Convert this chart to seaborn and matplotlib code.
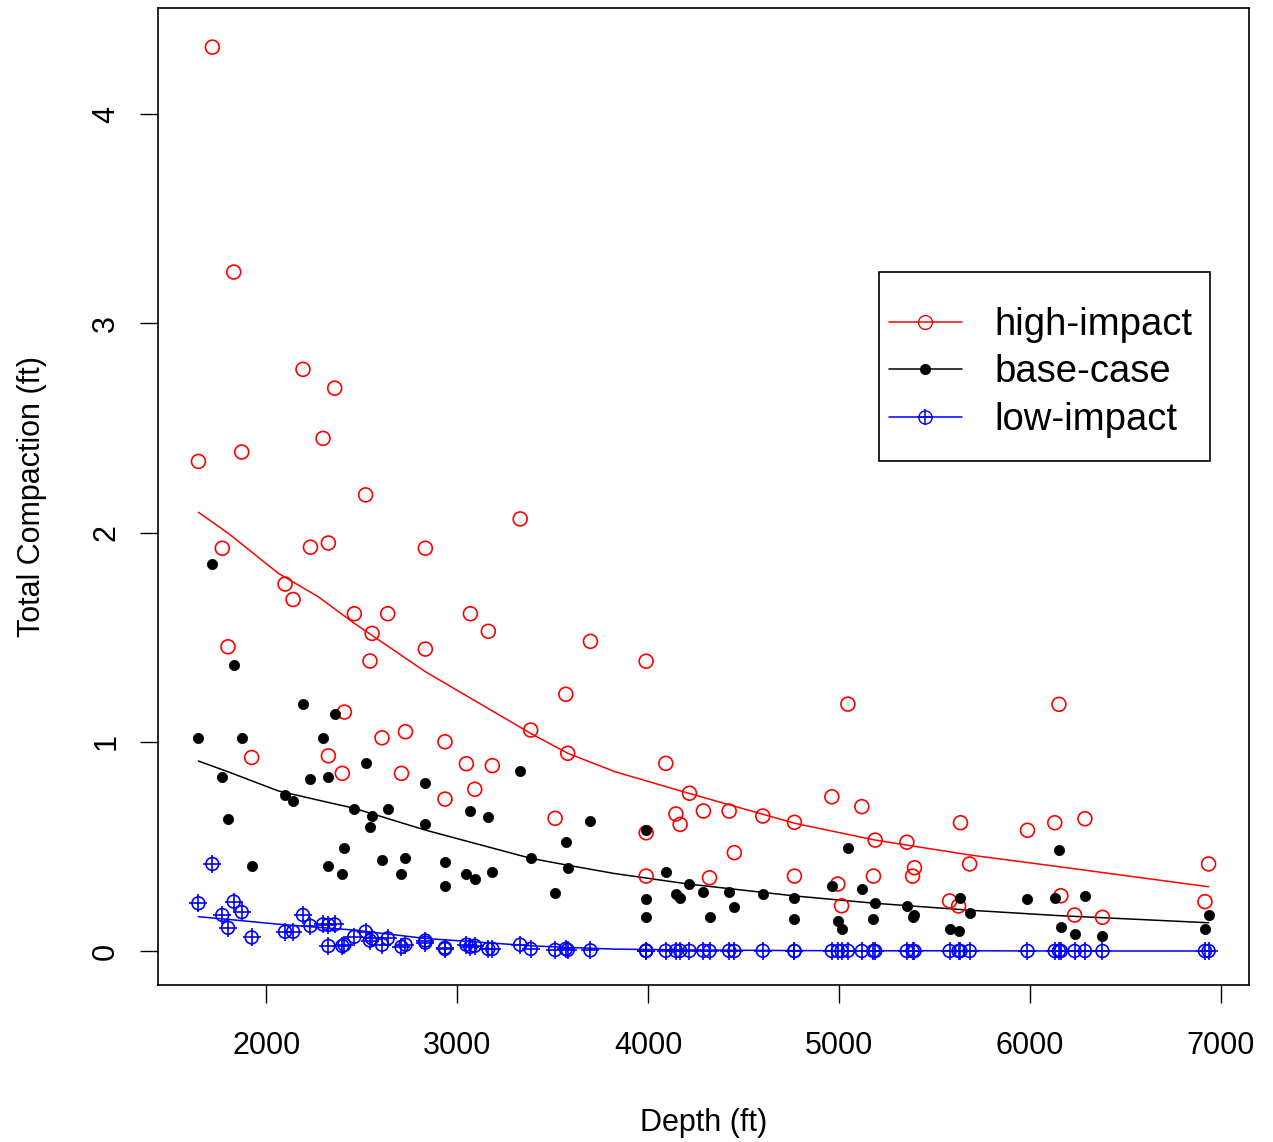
import matplotlib
matplotlib.use("Agg")
import matplotlib.pyplot as plt
import seaborn as sns
import pandas as pd
from matplotlib.lines import Line2D
from matplotlib.patches import Rectangle

# depth of each well (ft) and total compaction for the three scenarios
depth = [1644, 1717, 1769, 1799, 1829, 1871, 1923, 2098, 2140, 2192, 2231, 2297,
         2325, 2325, 2358, 2398, 2409, 2461, 2520, 2543, 2554, 2606, 2636, 2708,
         2729, 2833, 2833, 2936, 2936, 3048, 3069, 3092, 3163, 3184, 3330, 3385,
         3513, 3569, 3579, 3698, 3990, 3990, 3990, 4093, 4146, 4168, 4217, 4290,
         4322, 4425, 4452, 4601, 4767, 4767, 4963, 4994, 5014, 5047, 5120, 5181,
         5190, 5356, 5386, 5396, 5580, 5627, 5637, 5685, 5988, 6131, 6153, 6163,
         6235, 6289, 6381, 6918, 6937]
high_impact = [2.34, 4.32, 1.925, 1.454, 3.245, 2.385, 0.925, 1.754, 1.68, 2.78, 1.93, 2.45,
               1.95, 0.933, 2.69, 0.849, 1.142, 1.612, 2.18, 1.386, 1.518, 1.019, 1.612, 0.849,
               1.048, 1.925, 1.443, 1.0, 0.726, 0.895, 1.612, 0.773, 1.528, 0.886, 2.065, 1.056,
               0.634, 1.227, 0.945, 1.48, 1.385, 0.565, 0.358, 0.897, 0.655, 0.605, 0.754, 0.669,
               0.35, 0.669, 0.47, 0.645, 0.615, 0.358, 0.737, 0.32, 0.216, 1.18, 0.69, 0.358,
               0.53, 0.52, 0.358, 0.398, 0.239, 0.215, 0.613, 0.416, 0.577, 0.613, 1.179, 0.264,
               0.172, 0.632, 0.161, 0.236, 0.416]
base_case = [1.019, 1.849, 0.833, 0.632, 1.368, 1.019, 0.406, 0.747, 0.717, 1.18, 0.82, 1.019,
             0.833, 0.406, 1.134, 0.368, 0.49, 0.68, 0.897, 0.594, 0.645, 0.435, 0.68, 0.368,
             0.443, 0.801, 0.605, 0.427, 0.312, 0.368, 0.67, 0.343, 0.642, 0.379, 0.86, 0.443,
             0.276, 0.52, 0.398, 0.623, 0.578, 0.247, 0.161, 0.379, 0.274, 0.255, 0.322, 0.283,
             0.161, 0.283, 0.209, 0.274, 0.255, 0.153, 0.312, 0.145, 0.104, 0.49, 0.295, 0.153,
             0.228, 0.216, 0.161, 0.172, 0.105, 0.096, 0.255, 0.18, 0.247, 0.255, 0.483, 0.115,
             0.08, 0.264, 0.072, 0.105, 0.17]
low_impact = [0.228, 0.416, 0.172, 0.111, 0.236, 0.186, 0.065, 0.092, 0.092, 0.172, 0.12, 0.127,
              0.125, 0.024, 0.127, 0.024, 0.03, 0.068, 0.092, 0.05, 0.06, 0.03, 0.06, 0.02,
              0.03, 0.05, 0.04, 0.015, 0.01, 0.03, 0.02, 0.025, 0.01, 0.01, 0.03, 0.01,
              0.005, 0.01, 0.005, 0.003, 0.002, 0.001, 0.0, 0.001, 0.001, 0.001, 0.001, 0.001,
              0.0, 0.001, 0.0, 0.001, 0.0, 0.0, 0.0, 0.0, 0.0, 0.001, 0.0, 0.0,
              0.0, 0.0, 0.0, 0.0, 0.0, 0.0, 0.0, 0.0, 0.0, 0.0, 0.0, 0.0,
              0.0, 0.0, 0.0, 0.0, 0.0]

# fitted trend curves
trend_depth = [1644, 1801, 2063, 2272, 2461, 2833, 3385, 3579, 3826, 4212, 4770, 5190, 5685, 6153, 6937]
trend_high = [2.097, 1.996, 1.805, 1.693, 1.566, 1.335, 1.04, 0.945, 0.857, 0.754, 0.61, 0.53, 0.459, 0.403, 0.307]
trend_base = [0.908, 0.856, 0.765, 0.721, 0.682, 0.578, 0.443, 0.41, 0.37, 0.32, 0.263, 0.228, 0.195, 0.169, 0.135]
trend_low = [0.164, 0.151, 0.128, 0.113, 0.1, 0.06, 0.025, 0.017, 0.009, 0.005, 0.002, 0.001, 0.001, 0.0, 0.0]

labels = ["high-impact", "base-case", "low-impact"]

sns.set_style("white")
plt.rcParams["font.family"] = ["Liberation Sans", "DejaVu Sans"]
plt.rcParams["text.color"] = "black"
plt.rcParams["axes.labelcolor"] = "black"

df = pd.DataFrame({"depth": depth, "high": high_impact, "base": base_case, "low": low_impact})
tr = pd.DataFrame({"depth": trend_depth, "high": trend_high, "base": trend_base, "low": trend_low})

W, H = 1273, 1142
fig = plt.figure(figsize=(W / 100, H / 100), dpi=100)
ax = fig.add_axes([158 / W, 1 - 985 / H, (1249 - 158) / W, (985 - 8) / H])

sns.scatterplot(data=df, x="depth", y="high", marker="o", s=100, color="red",
                facecolor="none", edgecolor="red", linewidth=1.2, ax=ax, zorder=3)
sns.scatterplot(data=df, x="depth", y="base", marker="o", s=55, color="black",
                edgecolor="black", linewidth=0.5, ax=ax, zorder=3)
sns.scatterplot(data=df, x="depth", y="low", marker="o", s=85, color="blue",
                facecolor="none", edgecolor="blue", linewidth=1.2, ax=ax, zorder=3)
sns.scatterplot(data=df, x="depth", y="low", marker="+", s=150, color="blue",
                linewidth=1.2, ax=ax, zorder=3)

sns.lineplot(data=tr, x="depth", y="high", color="red", linewidth=1.1, estimator=None, ax=ax)
sns.lineplot(data=tr, x="depth", y="base", color="black", linewidth=1.1, estimator=None, ax=ax)
sns.lineplot(data=tr, x="depth", y="low", color="blue", linewidth=1.1, estimator=None, ax=ax)

# R-style axis range: data range padded by 4%
xpad = 0.04 * (max(depth) - min(depth))
ax.set_xlim(min(depth) - xpad, max(depth) + xpad)
ax.set_ylim(-0.1625, 4.507)

ax.set_xticks([2000, 3000, 4000, 5000, 6000, 7000])
ax.set_yticks([0, 1, 2, 3, 4])
ax.tick_params(axis="both", direction="out", length=13, width=1, color="black",
               labelsize=22, labelcolor="black", bottom=True, left=True)
ax.tick_params(axis="x", pad=20)
ax.tick_params(axis="y", pad=13.5)
plt.setp(ax.get_yticklabels(), rotation=90, va="center")

ax.set_xlabel("Depth (ft)", fontsize=22)
ax.set_ylabel("Total Compaction (ft)", fontsize=22)
ax.xaxis.set_label_coords(0.5, -0.126)
ax.yaxis.set_label_coords(-0.102, 0.5)

for sp in ax.spines.values():
    sp.set_visible(True)
    sp.set_color("black")
    sp.set_linewidth(1.2)

handles = [
    Line2D([], [], color="red", marker="o", markerfacecolor="none", markersize=10, lw=1.1),
    Line2D([], [], color="black", marker="o", markersize=7, lw=1.1),
    (Line2D([], [], color="blue", marker="o", markerfacecolor="none", markersize=9.5, lw=1.1),
     Line2D([], [], color="blue", marker="+", markersize=12, linestyle="none", mew=1.1)),
]
leg = ax.legend(handles=handles, labels=labels, loc="upper left",
                bbox_to_anchor=((889 - 158) / 1091, (985 - 307) / 977),
                fontsize=27.5, frameon=False, handlelength=1.9, handletextpad=0.85,
                labelspacing=0.3, borderpad=0, borderaxespad=0, labelcolor="black")

# R-style legend box
ax.add_patch(Rectangle(((879 - 158) / 1091, (985 - 461) / 977), 331 / 1091, 189 / 977,
                       transform=ax.transAxes, fill=False, edgecolor="black",
                       linewidth=1.2, zorder=5))

fig.savefig("out.png", dpi=100)
